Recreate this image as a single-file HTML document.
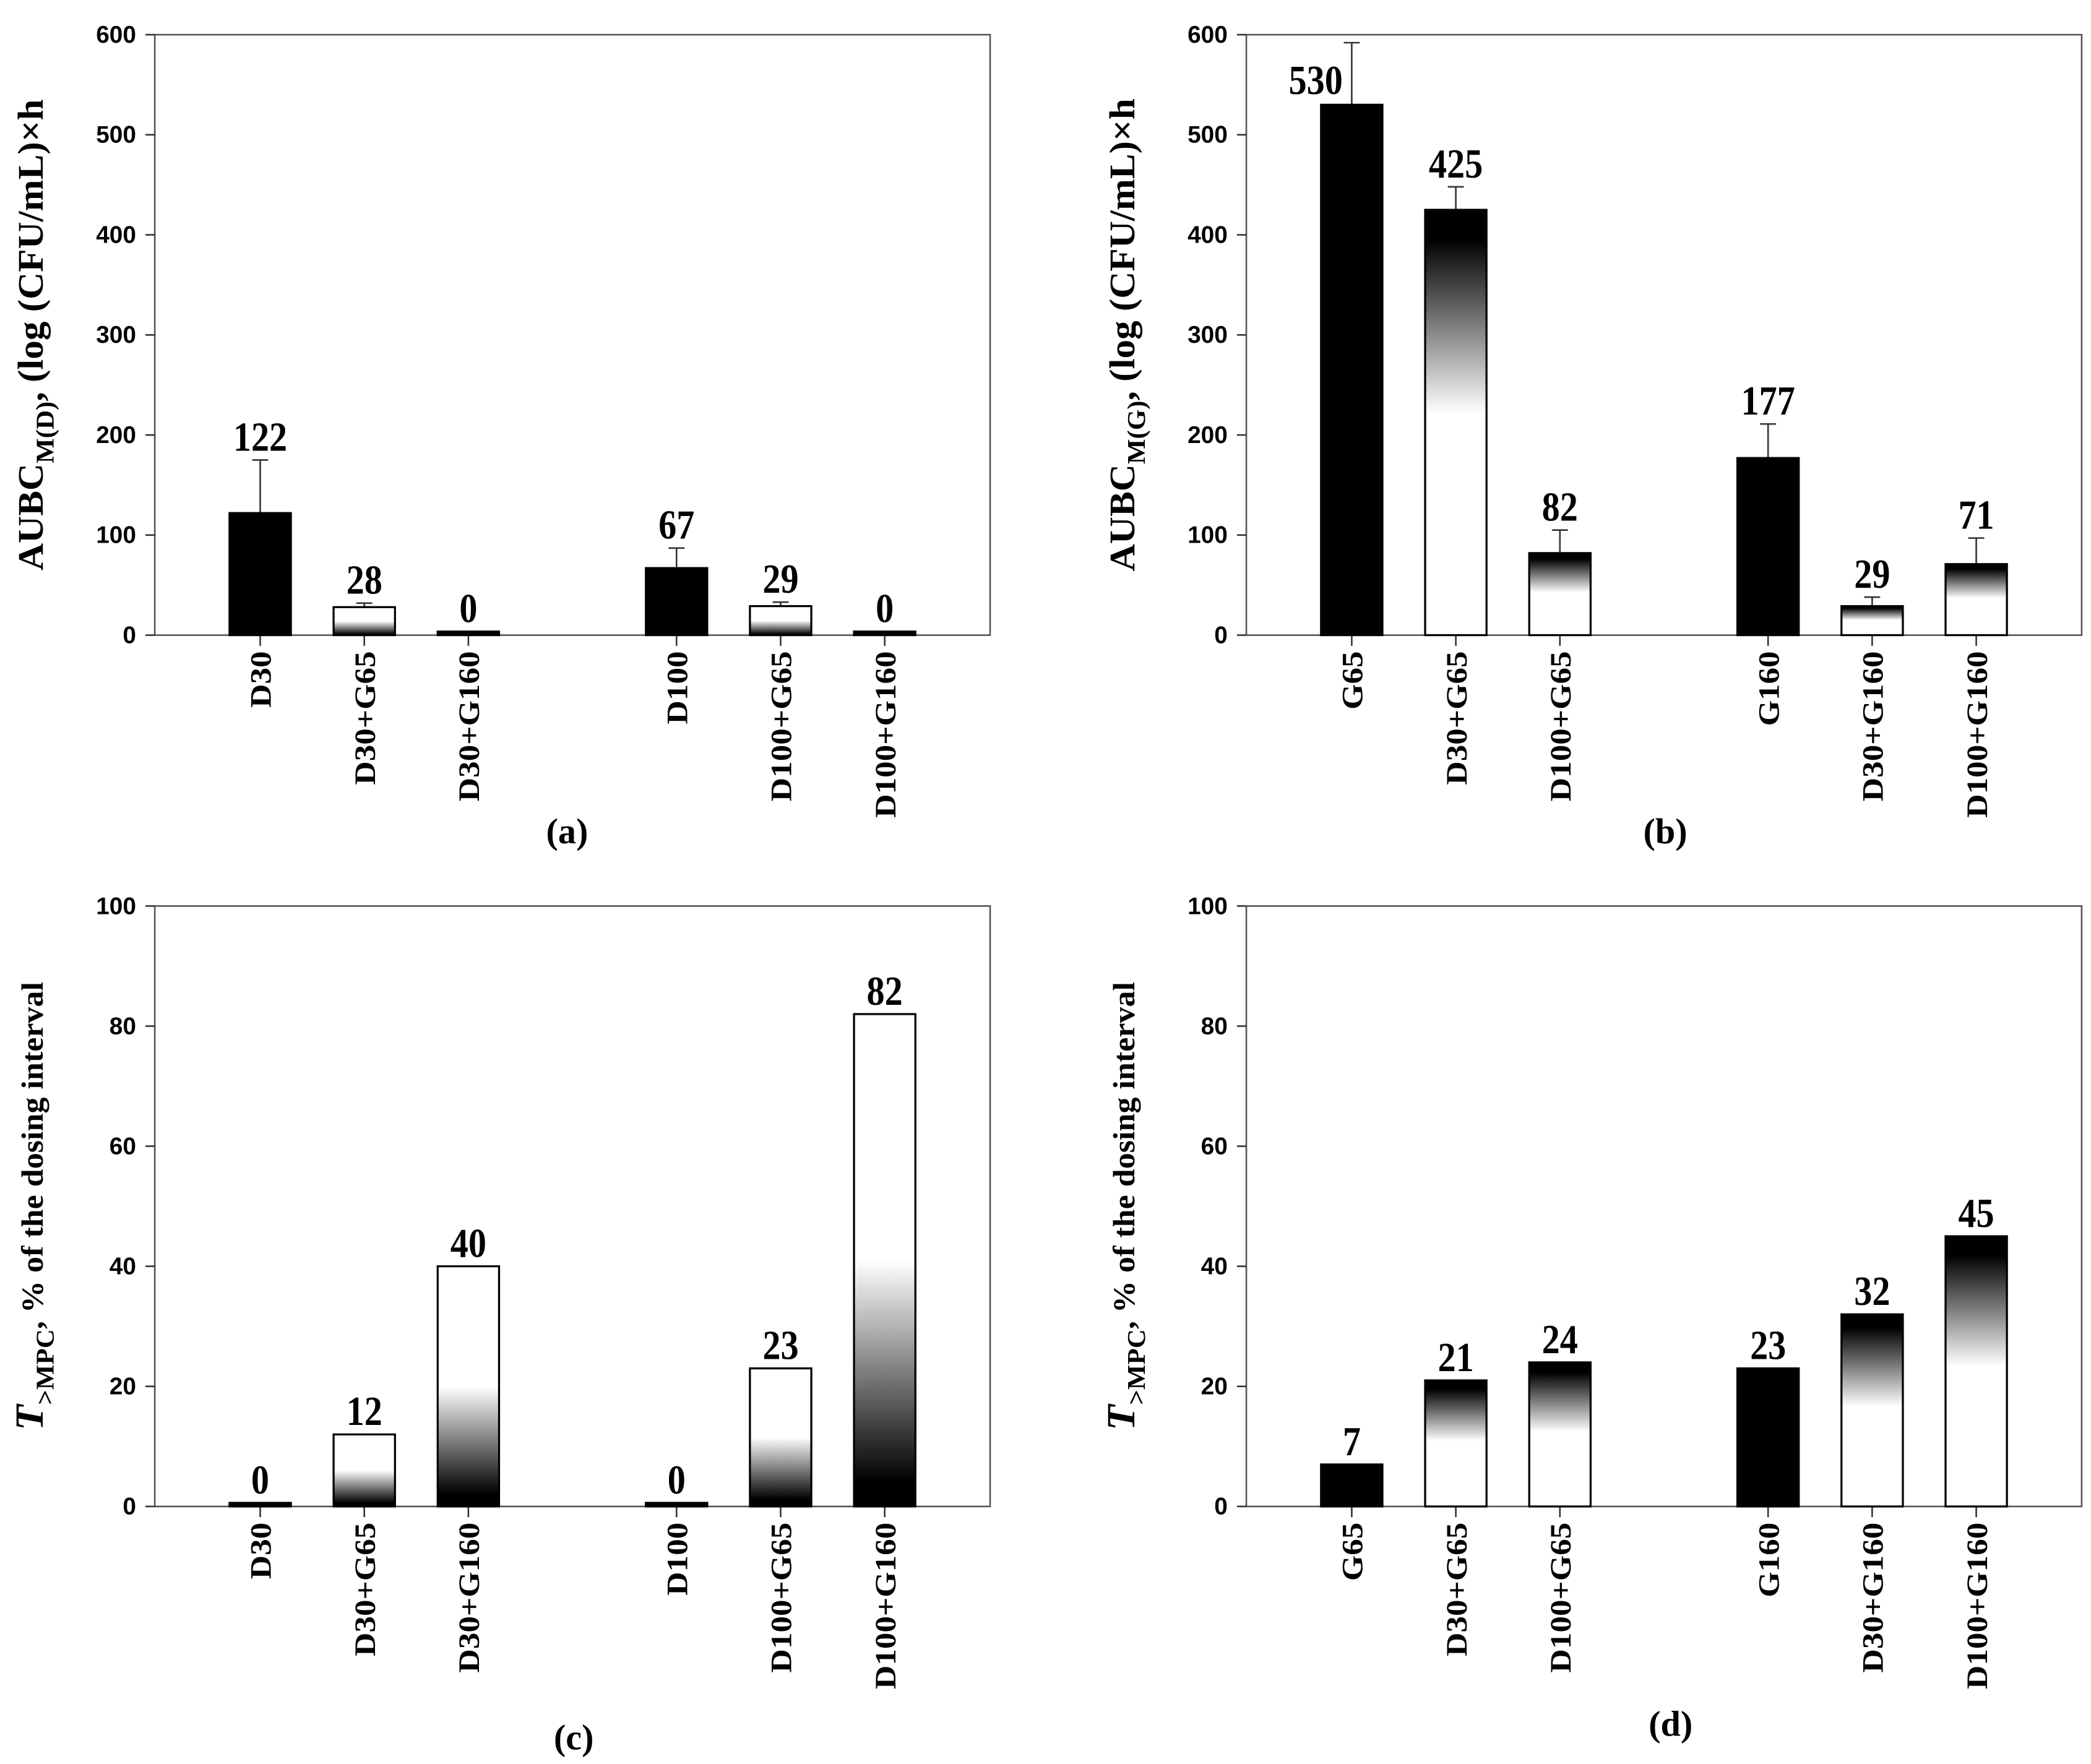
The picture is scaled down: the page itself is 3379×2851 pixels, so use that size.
<!DOCTYPE html>
<html><head><meta charset="utf-8"><style>
html,body{margin:0;padding:0;background:#fff}
svg{display:block}
.tick{font-family:"Liberation Sans",sans-serif;font-weight:bold;font-size:18px}
.val{font-family:"Liberation Serif",serif;font-weight:bold;font-size:27px}
.cat{font-family:"Liberation Serif",serif;font-weight:bold;font-size:22px}
.ttl{font-family:"Liberation Serif",serif;font-weight:bold;font-size:27px}
.pl{font-family:"Liberation Serif",serif;font-weight:bold;font-size:27px}
</style></head><body>
<svg id="fig" width="3379" height="2851" viewBox="0 0 1567 1322" preserveAspectRatio="none" xmlns="http://www.w3.org/2000/svg">
<defs>
<linearGradient id="wb" x1="0" y1="0" x2="0" y2="1"><stop offset="0" stop-color="#fff"/><stop offset="0.5" stop-color="#fff"/><stop offset="0.97" stop-color="#000"/><stop offset="1" stop-color="#000"/></linearGradient>
<linearGradient id="wb2" x1="0" y1="0" x2="0" y2="1"><stop offset="0" stop-color="#fff"/><stop offset="0.5" stop-color="#fff"/><stop offset="0.95" stop-color="#000"/><stop offset="1" stop-color="#000"/></linearGradient>
<linearGradient id="bw" x1="0" y1="0" x2="0" y2="1"><stop offset="0" stop-color="#000"/><stop offset="0.07" stop-color="#000"/><stop offset="0.48" stop-color="#fff"/><stop offset="1" stop-color="#fff"/></linearGradient>
</defs>
</svg>
<script>
// Panel (a)
const catsA = ["D30","D30+G65","D30+G160","D100","D100+G65","D100+G160"];
const valsA = [122,28,0,67,29,0];
const errA = [175,32,null,87,33,null];
const fillA = ["k","wb","k","k","wb","k"];
// Panel (b)
const catsB = ["G65","D30+G65","D100+G65","G160","D30+G160","D100+G160"];
const valsB = [530,425,82,177,29,71];
const errB = [592,448,105,211,38,97];
const fillB = ["k","bw","bw","k","bw","bw"];
// Panel (c)
const catsC = ["D30","D30+G65","D30+G160","D100","D100+G65","D100+G160"];
const valsC = [0,12,40,0,23,82];
const fillC = ["k","wb2","wb2","k","wb2","wb2"];
// Panel (d)
const catsD = ["G65","D30+G65","D100+G65","G160","D30+G160","D100+G160"];
const valsD = [7,21,24,23,32,45];
const fillD = ["k","bw","bw","k","bw","bw"];
const ticksAB = [0,100,200,300,400,500,600];
const ticksCD = [0,20,40,60,80,100];

const NS="http://www.w3.org/2000/svg";
const svg=document.getElementById('fig');
function mk(t,a,p){const e=document.createElementNS(NS,t);for(const k in a)e.setAttribute(k,a[k]);(p||svg).appendChild(e);return e;}

function panel(o){
  const g=mk('g',{});
  
  
  const y=v=>o.y1-(v-o.min)/(o.max-o.min)*(o.y1-o.y0);
  const xs=[0,1,2,4,5,6].map(i=>o.x0+79+i*78);
  const fr=mk('rect',{x:o.x0,y:o.y0,width:o.x1-o.x0,height:o.y1-o.y0,fill:'none',stroke:'#555','stroke-width':1.2},g);
  
  
  o.ticks.forEach(t=>{
    mk('line',{x1:o.x0-7,x2:o.x0,y1:y(t),y2:y(t),stroke:'#333','stroke-width':1.2},g);
    const tx=mk('text',{x:o.x0-14,y:y(t)+6,'text-anchor':'end',class:'tick'},g);
    tx.textContent=t;
    
    
  });
  const bw=46, minH=(o.max-o.min)*0.006;
  o.vals.forEach((v,i)=>{
    const cx=xs[i];
    const top=y(Math.max(v,minH));
    mk('line',{x1:cx,x2:cx,y1:o.y1,y2:o.y1+8,stroke:'#333','stroke-width':1.2},g);
    const f=o.fill[i]==='k'?'#000':'url(#'+o.fill[i]+')';
    if(o.err&&o.err[i]!=null){
      mk('line',{x1:cx,x2:cx,y1:top,y2:y(o.err[i]),stroke:'#333','stroke-width':1.2},g);
      mk('line',{x1:cx-6,x2:cx+6,y1:y(o.err[i]),y2:y(o.err[i]),stroke:'#333','stroke-width':1.2},g);
    }
    const r=mk('rect',{x:cx-bw/2,y:top,width:bw,height:o.y1-top,fill:f,stroke:'#000','stroke-width':1.5},g);
    
    
    const big=o.err&&o.err[i]>o.max*0.9;
    const ly=(o.err&&o.err[i]!=null&&!big)?y(o.err[i])-7:top-7;
    const lt=mk('text',{x:0,y:0,'text-anchor':'middle',class:'val',transform:'translate('+(big?cx-27:cx)+','+(big?top-8:ly)+') scale(1,1.15)'},g);
    lt.textContent=Math.round(v);
    
    
    const ct=mk('text',{x:0,y:0,'text-anchor':'end',class:'cat',transform:'translate('+(cx+8)+','+(o.y1+12)+') rotate(-90) scale(1.12,1)'},g);
    ct.textContent=o.cats[i];
    
    
  });
  const yt=mk('text',{x:0,y:0,'text-anchor':'middle',class:'ttl',transform:'translate('+(o.x0-84)+','+((o.y0+o.y1)/2)+') rotate(-90) scale(1.05,1)'},g);
  yt.innerHTML=o.title;
  
  
  const pl=mk('text',{x:o.lx,y:o.ly,'text-anchor':'middle',class:'pl'},g);
  pl.textContent=o.label;
  
  
}
const tAUBC=(s)=>'AUBC<tspan font-size="19" dy="8">M('+s+')</tspan><tspan dy="-8">, (log (CFU/mL)×h</tspan>';
const tT='<tspan font-style="italic" font-size="30">T</tspan><tspan font-size="19" dy="8">&gt;MPC</tspan><tspan dy="-8" font-size="23">, % of the dosing interval</tspan>';
panel({name:'panel-a',x0:116,x1:742,y0:26,y1:476,min:0,max:600,ticks:ticksAB,cats:catsA,vals:valsA,err:errA,fill:fillA,title:tAUBC('D'),label:'(a)',lx:425,ly:632});
panel({name:'panel-b',x0:934,x1:1560,y0:26,y1:476,min:0,max:600,ticks:ticksAB,cats:catsB,vals:valsB,err:errB,fill:fillB,title:tAUBC('G'),label:'(b)',lx:1248,ly:632});
panel({name:'panel-c',x0:116,x1:742,y0:679,y1:1129,min:0,max:100,ticks:ticksCD,cats:catsC,vals:valsC,err:null,fill:fillC,title:tT,label:'(c)',lx:430,ly:1311});
panel({name:'panel-d',x0:934,x1:1560,y0:679,y1:1129,min:0,max:100,ticks:ticksCD,cats:catsD,vals:valsD,err:null,fill:fillD,title:tT,label:'(d)',lx:1252,ly:1301});
</script>
</body></html>
